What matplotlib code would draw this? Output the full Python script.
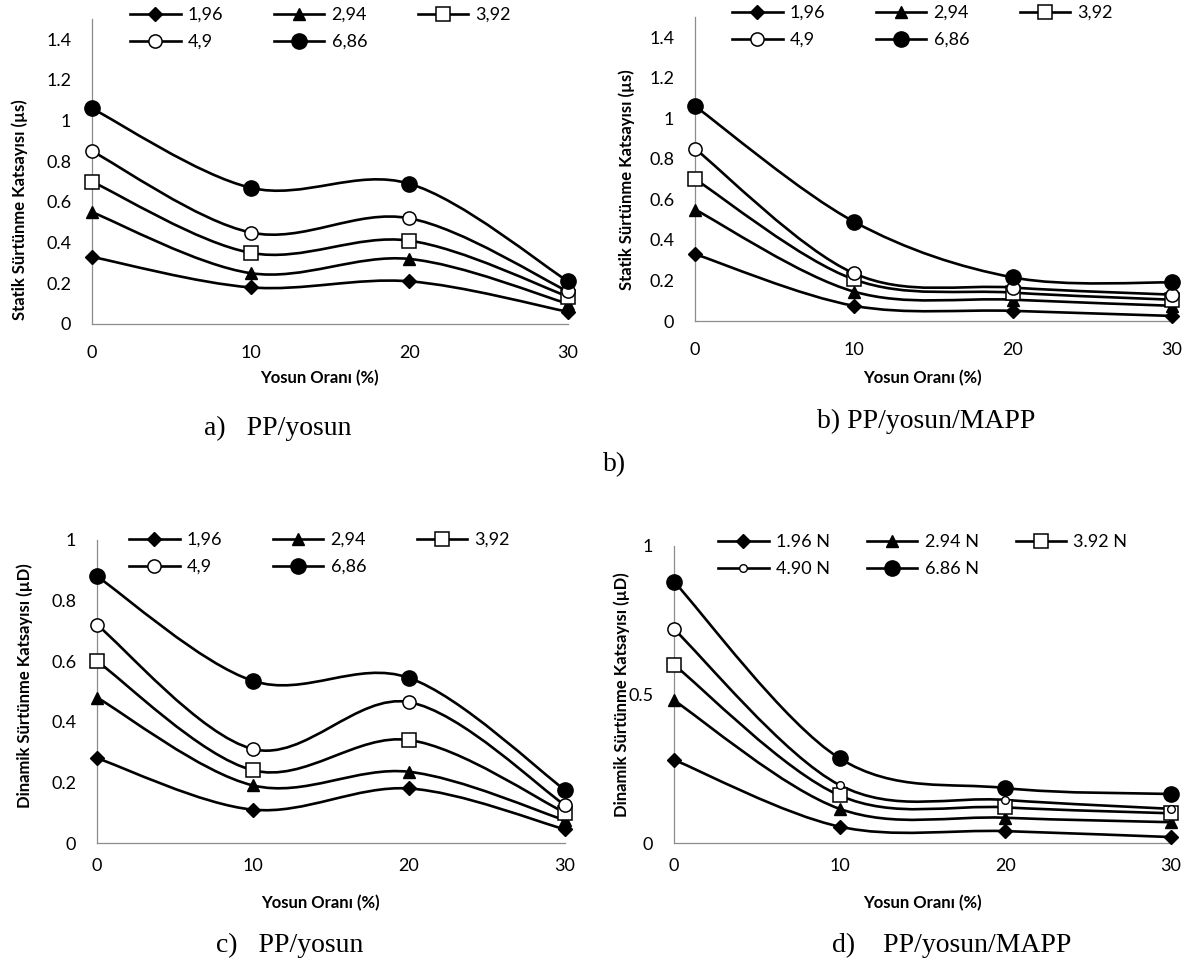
import numpy as np
import matplotlib.pyplot as plt
from matplotlib.path import Path
from matplotlib.patches import PathPatch
from matplotlib.lines import Line2D
from matplotlib.ticker import FuncFormatter

plt.rcParams['font.family'] = ['Lato', 'DejaVu Sans']

W, H = 1190, 967

# yosun oranı (%)
x = [0, 10, 20, 30]

# a) PP/yosun - statik
a_196 = [0.33, 0.18, 0.21, 0.06]
a_294 = [0.55, 0.25, 0.32, 0.10]
a_392 = [0.70, 0.35, 0.41, 0.135]
a_490 = [0.85, 0.45, 0.52, 0.16]
a_686 = [1.06, 0.67, 0.69, 0.21]

# b) PP/yosun/MAPP - statik
b_196 = [0.33, 0.075, 0.05, 0.025]
b_294 = [0.55, 0.145, 0.105, 0.075]
b_392 = [0.70, 0.205, 0.14, 0.105]
b_490 = [0.85, 0.235, 0.165, 0.13]
b_686 = [1.06, 0.49, 0.215, 0.19]

# c) PP/yosun - dinamik
c_196 = [0.28, 0.11, 0.18, 0.045]
c_294 = [0.48, 0.19, 0.235, 0.075]
c_392 = [0.60, 0.24, 0.34, 0.10]
c_490 = [0.72, 0.31, 0.465, 0.125]
c_686 = [0.88, 0.535, 0.545, 0.175]

# d) PP/yosun/MAPP - dinamik
d_196 = [0.28, 0.055, 0.04, 0.02]
d_294 = [0.48, 0.115, 0.085, 0.07]
d_392 = [0.60, 0.16, 0.12, 0.10]
d_490 = [0.72, 0.195, 0.145, 0.115]
d_686 = [0.88, 0.285, 0.185, 0.165]

labels_comma = ['1,96', '2,94', '3,92', '4,9', '6,86']
labels_n = ['1.96 N', '2.94 N', '3.92 N', '4.90 N', '6.86 N']

# marker style per load
styles = [
    dict(marker='D', ms=7.5, mfc='black', mec='black'),
    dict(marker='^', ms=9, mfc='black', mec='black'),
    dict(marker='s', ms=9.5, mfc='white', mec='black', mew=1.1),
    dict(marker='o', ms=9.5, mfc='white', mec='black', mew=1.1),
    dict(marker='o', ms=11, mfc='black', mec='black'),
]
small_circle = dict(marker='o', ms=5.5, mfc='white', mec='black', mew=1.0)


def smooth_path(xs, ys):
    # excel-like smoothed line: catmull-rom as cubic bezier
    P = np.column_stack([xs, ys]).astype(float)
    n = len(P)
    verts = [P[0]]
    codes = [Path.MOVETO]
    for i in range(n - 1):
        p0 = P[i - 1] if i > 0 else P[i]
        p1 = P[i]
        p2 = P[i + 1]
        p3 = P[i + 2] if i + 2 < n else P[i + 1]
        verts += [p1 + (p2 - p0) / 6, p2 - (p3 - p1) / 6, p2]
        codes += [Path.CURVE4] * 3
    return Path(verts, codes)


def px_axes(fig, left, right, top, bottom):
    return fig.add_axes([left / W, 1 - bottom / H, (right - left) / W, (bottom - top) / H])


def panel(ax, series, ymax, yticks, small_490=False):
    for i, ys in enumerate(series):
        patch = PathPatch(smooth_path(x, ys), facecolor='none', edgecolor='black',
                          lw=1.9, transform=ax.transData, zorder=2, clip_on=False)
        ax.add_patch(patch)
        st = dict(styles[i])
        if small_490 and i == 3:
            ax.plot(x[1:], ys[1:], ls='none', zorder=3, clip_on=False, **small_circle)
            ax.plot(x[:1], ys[:1], ls='none', zorder=3, clip_on=False, **st)
        else:
            ax.plot(x, ys, ls='none', zorder=3, clip_on=False, **st)
    ax.set_xlim(0, 30)
    ax.set_ylim(0, ymax)
    ax.set_xticks([0, 10, 20, 30])
    ax.set_yticks(yticks)
    ax.yaxis.set_major_formatter(FuncFormatter(lambda v, p: f'{v:g}'))
    for s in ['top', 'right']:
        ax.spines[s].set_visible(False)
    for s in ['left', 'bottom']:
        ax.spines[s].set_color('#8c8c8c')
        ax.spines[s].set_linewidth(0.9)
    ax.tick_params(length=0, labelsize=13, pad=15)
    ax.patch.set_alpha(0)


def legend(fig, labels, left, top, colspace, small_490=False):
    handles = []
    for i, lab in enumerate(labels):
        st = dict(styles[i])
        if small_490 and i == 3:
            st = dict(small_circle)
        handles.append(Line2D([], [], color='black', lw=1.9, **st))
    # matplotlib fills columns first; reorder so rows read 1,2,3 / 4,5
    order = [0, 3, 1, 4, 2]
    fig.legend([handles[k] for k in order], [labels[k] for k in order],
               loc='upper left', bbox_to_anchor=(left / W, 1 - top / H),
               ncol=3, frameon=False, fontsize=13, handlelength=2.8, handletextpad=0.4,
               columnspacing=colspace, labelspacing=0.6, borderpad=0, borderaxespad=0)


fig = plt.figure(figsize=(W / 100, H / 100), dpi=100)

ax_a = px_axes(fig, 92, 568, 19, 324)
panel(ax_a, [a_196, a_294, a_392, a_490, a_686], 1.5, np.arange(0, 1.41, 0.2))
ax_b = px_axes(fig, 695, 1172, 17, 321)
panel(ax_b, [b_196, b_294, b_392, b_490, b_686], 1.5, np.arange(0, 1.41, 0.2))
ax_c = px_axes(fig, 97, 565, 540, 843)
panel(ax_c, [c_196, c_294, c_392, c_490, c_686], 1.0, np.arange(0, 1.01, 0.2))
ax_c.tick_params(axis='x', pad=11)
ax_d = px_axes(fig, 674, 1171, 546, 843)
panel(ax_d, [d_196, d_294, d_392, d_490, d_686], 1.0, [0, 0.5, 1], small_490=True)
ax_d.tick_params(axis='x', pad=11)

legend(fig, labels_comma, 130, 7, 2.8)
legend(fig, labels_comma, 732, 5, 2.8)
legend(fig, labels_comma, 129, 532, 2.8)
legend(fig, labels_n, 718, 534, 2.05, small_490=True)

# eksen başlıkları
lab_kw = dict(fontsize=12, fontweight='bold', ha='center', va='center')
fig.text(20 / W, 1 - 210 / H, 'Statik Sürtünme Katsayısı (µs)', rotation=90, **lab_kw)
fig.text(627 / W, 1 - 180 / H, 'Statik Sürtünme Katsayısı (µs)', rotation=90, **lab_kw)
fig.text(25 / W, 1 - 686 / H, 'Dinamik Sürtünme Katsayısı (µD)', rotation=90, **lab_kw)
fig.text(622 / W, 1 - 695 / H, 'Dinamik Sürtünme Katsayısı (µD)', rotation=90, **lab_kw)
fig.text(319 / W, 1 - 378 / H, 'Yosun Oranı (%)', **lab_kw)
fig.text(922 / W, 1 - 378 / H, 'Yosun Oranı (%)', **lab_kw)
fig.text(320 / W, 1 - 903 / H, 'Yosun Oranı (%)', **lab_kw)
fig.text(922 / W, 1 - 903 / H, 'Yosun Oranı (%)', **lab_kw)

# alt yazılar
cap_kw = dict(fontsize=20, family='Liberation Serif', ha='center', va='center')
fig.text(278 / W, 1 - 428 / H, 'a)   PP/yosun', **cap_kw)
fig.text(926 / W, 1 - 421 / H, 'b) PP/yosun/MAPP', **cap_kw)
fig.text(615 / W, 1 - 465 / H, 'b)', **cap_kw)
fig.text(290 / W, 1 - 945 / H, 'c)   PP/yosun', **cap_kw)
fig.text(952 / W, 1 - 945 / H, 'd)    PP/yosun/MAPP', **cap_kw)

fig.savefig('out.png', dpi=100)
